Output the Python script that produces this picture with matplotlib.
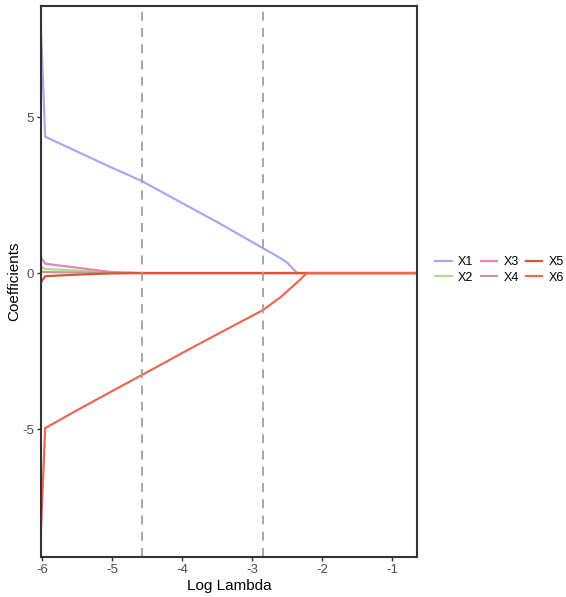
import numpy as np
import matplotlib.pyplot as plt

plt.rcParams['font.family'] = ['Liberation Sans', 'DejaVu Sans']
plt.rcParams['axes.unicode_minus'] = False

log_lambda = [-6.02, -5.96, -5.5, -5.0, -4.58, -4.0, -3.5, -2.85, -2.6, -2.5, -2.36, -2.22, -1.5, -0.65]

x1 = [7.8, 4.37, 3.89, 3.37, 2.95, 2.24, 1.63, 0.8, 0.48, 0.33, 0.0, 0.0, 0.0, 0.0]
x2 = [0.2, 0.13, 0.08, 0.02, 0.0, 0.0, 0.0, 0.0, 0.0, 0.0, 0.0, 0.0, 0.0, 0.0]
x3 = [0.5, 0.3, 0.17, 0.03, 0.0, 0.0, 0.0, 0.0, 0.0, 0.0, 0.0, 0.0, 0.0, 0.0]
x4 = [0.05, 0.03, 0.02, 0.0, 0.0, 0.0, 0.0, 0.0, 0.0, 0.0, 0.0, 0.0, 0.0, 0.0]
x5 = [-0.3, -0.1, -0.05, -0.01, 0.0, 0.0, 0.0, 0.0, 0.0, 0.0, 0.0, 0.0, 0.0, 0.0]
x6 = [-8.2, -4.97, -4.39, -3.78, -3.27, -2.56, -1.96, -1.19, -0.78, -0.58, -0.3, 0.0, 0.0, 0.0]

series = {'X1': x1, 'X2': x2, 'X3': x3, 'X4': x4, 'X5': x5, 'X6': x6}
colors = {'X1': '#A7A8EE', 'X2': '#B5D98F', 'X3': '#EC82B8',
          'X4': '#B59F98', 'X5': '#D9553A', 'X6': '#E86A55'}

# cross-validation lines (lambda.min, lambda.1se)
cv_lines = [-4.58, -2.85]

fig = plt.figure(figsize=(5.66, 5.97), dpi=100)
ax = fig.add_axes([0.0724, 0.067, 0.664, 0.923])

for name, vals in series.items():
    ax.plot(log_lambda, vals, color=colors[name], lw=1.6, label=name)

for v in cv_lines:
    ax.axvline(v, color='#A0A0A0', ls=(0, (5, 4)), lw=1.3)

ax.set_xlim(-6.02, -0.65)
ax.set_ylim(-9.1, 8.56)
ax.set_xticks([-6, -5, -4, -3, -2, -1])
ax.set_yticks([-5, 0, 5])
for s in ax.spines.values():
    s.set_color('#333333')
    s.set_linewidth(1.5)
ax.tick_params(colors='#333333', labelcolor='#4D4D4D', labelsize=9.5, length=3, width=1, pad=2)
ax.set_xlabel('Log Lambda', fontsize=11, labelpad=2)
ax.set_ylabel('Coefficients', fontsize=11, labelpad=1)

handles, labels = ax.get_legend_handles_labels()
fig.legend(handles, labels, ncol=3, loc='center left', bbox_to_anchor=(0.765, 0.548),
           frameon=False, fontsize=9, handlelength=1.3, handletextpad=0.5,
           columnspacing=0.6, labelspacing=0.3, borderpad=0.2, borderaxespad=0)

fig.savefig('out.png', dpi=100)
